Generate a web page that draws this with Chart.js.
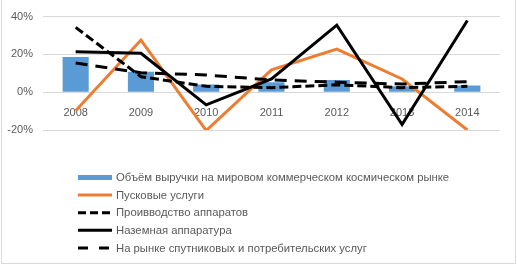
<!DOCTYPE html>
<html>
<head>
<meta charset="utf-8">
<script src="https://cdn.jsdelivr.net/npm/chart.js@4/dist/chart.umd.min.js"></script>
<style>
html,body{margin:0;padding:0;background:#fff;}
#wrap{width:517px;height:265px;position:relative;}
</style>
</head>
<body>
<div id="wrap"><canvas id="c" width="517" height="265"></canvas></div>
<script>
const categories = ['2008','2009','2010','2011','2012','2013','2014'];
const seriesNames = [
  'Объём выручки на мировом коммерческом космическом рынке',
  'Пусковые услуги',
  'Проивводство аппаратов',
  'Наземная аппаратура',
  'На рынке спутниковых и потребительских услуг'
];
const revenueTotal = [18.6, 10.8, 4.1, 5.3, 6.5, 3.1, 3.6];
const launchServices = [-9.8, 27.6, -20.3, 11.8, 22.8, 7.0, -20.0];
const manufacturing = [34.3, 8.2, 3.1, 2.4, 3.9, 2.4, 3.1];
const groundEquipment = [21.4, 20.6, -6.7, 7.0, 35.5, -17.1, 37.9];
const satelliteServices = [15.4, 10.3, 9.1, 6.5, 5.3, 4.3, 5.6];
const yTicks = [-20, 0, 20, 40];

const textColor = '#595959';
const fontFamily = '"Liberation Sans", Arial, sans-serif';

const borderPlugin = {
  id: 'frame',
  beforeDraw(chart) {
    const ctx = chart.ctx;
    ctx.save();
    ctx.fillStyle = '#fff';
    ctx.fillRect(0, 0, chart.width, chart.height);
    ctx.strokeStyle = '#d9d9d9';
    ctx.lineWidth = 1;
    ctx.strokeRect(1.5, -2, 514, 265.5);
    ctx.restore();
  }
};

const legendPlugin = {
  id: 'vlegend',
  afterDraw(chart) {
    const ctx = chart.ctx;
    ctx.save();
    const x0 = 78, x1 = 112, tx = 116;
    const rowY0 = 177.5, rowStep = 17.6;
    chart.data.datasets.forEach((ds, i) => {
      const y = rowY0 + i * rowStep;
      if (ds.type === 'bar') {
        ctx.fillStyle = ds.backgroundColor;
        ctx.fillRect(x0, y - 2.5, x1 - x0, 5);
      } else {
        ctx.strokeStyle = ds.borderColor;
        ctx.lineWidth = 3;
        ctx.setLineDash(ds.legendDash || []);
        ctx.beginPath();
        ctx.moveTo(x0, y);
        ctx.lineTo(x1, y);
        ctx.stroke();
        ctx.setLineDash([]);
      }
      ctx.fillStyle = textColor;
      ctx.font = '11.3px ' + fontFamily;
      ctx.textBaseline = 'middle';
      ctx.textAlign = 'left';
      ctx.fillText(ds.label, tx, y + 0.5);
    });
    ctx.restore();
  }
};

new Chart(document.getElementById('c'), {
  data: {
    labels: categories,
    datasets: [
      { type: 'bar', label: seriesNames[0], data: revenueTotal, backgroundColor: '#5B9BD5',
        barPercentage: 0.4, categoryPercentage: 1, order: 10 },
      { type: 'line', label: seriesNames[1], data: launchServices, borderColor: '#ED7D31',
        borderWidth: 3, pointRadius: 0, tension: 0, fill: false, order: 4 },
      { type: 'line', label: seriesNames[2], data: manufacturing, borderColor: '#000',
        borderWidth: 3, borderDash: [9, 4], legendDash: [8, 4], pointRadius: 0, tension: 0, fill: false, order: 3 },
      { type: 'line', label: seriesNames[3], data: groundEquipment, borderColor: '#000',
        borderWidth: 3, pointRadius: 0, tension: 0, fill: false, order: 2 },
      { type: 'line', label: seriesNames[4], data: satelliteServices, borderColor: '#000',
        borderWidth: 3, borderDash: [12, 8], legendDash: [10, 11], pointRadius: 0, tension: 0, fill: false, order: 1 }
    ]
  },
  options: {
    responsive: false,
    animation: false,
    devicePixelRatio: 1,
    layout: { padding: { top: 13, bottom: 135, left: 0, right: 17 } },
    plugins: {
      legend: { display: false },
      tooltip: { enabled: false }
    },
    scales: {
      x: {
        position: { y: 0 },
        grid: { display: false },
        border: { display: false },
        ticks: { color: textColor, font: { family: fontFamily, size: 11 }, padding: 6, maxRotation: 0 }
      },
      y: {
        min: -20, max: 40,
        afterBuildTicks(scale) { scale.ticks = yTicks.map(v => ({ value: v })); },
        afterFit(scale) { scale.width = 43; },
        grid: { color: '#d9d9d9', lineWidth: 1, drawTicks: false },
        border: { display: false },
        ticks: { color: textColor, font: { family: fontFamily, size: 11 }, padding: 10,
          callback: v => v + '%' }
      }
    }
  },
  plugins: [borderPlugin, legendPlugin]
});
</script>
</body>
</html>
